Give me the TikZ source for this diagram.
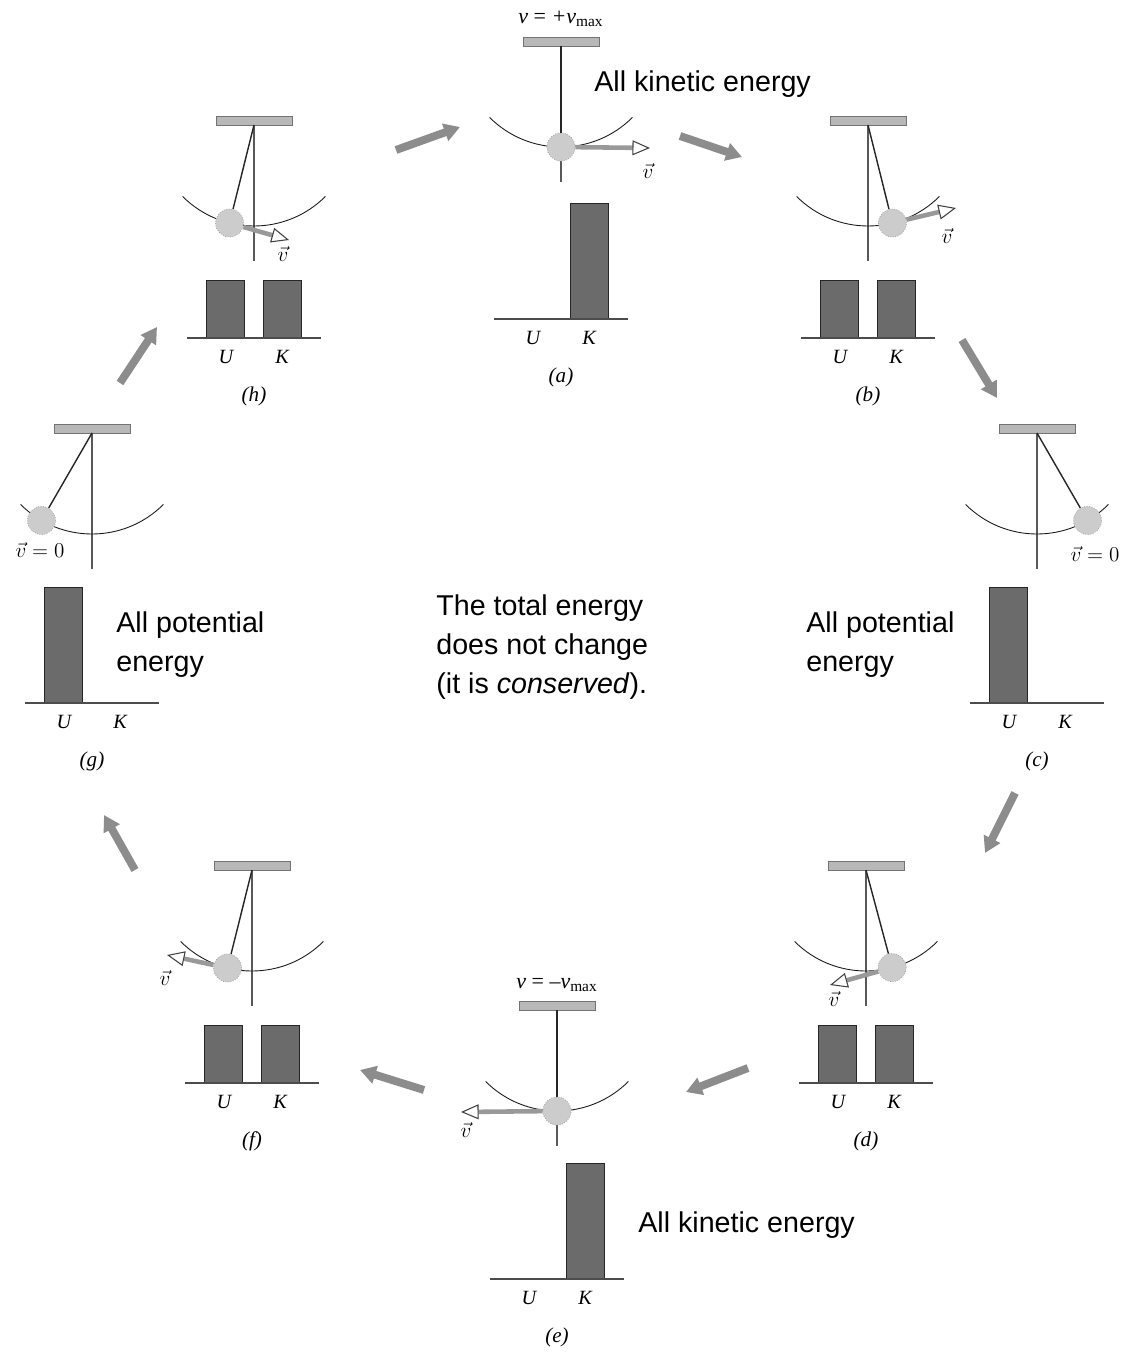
\documentclass[tikz,border=0pt]{standalone}
\usepackage{fontspec}
\setmainfont{Liberation Sans}
\newfontfamily\timesfont{Liberation Serif}
\usetikzlibrary{arrows.meta}

\tikzset{
  ceiling/.style={fill=black!28, draw=black!55, line width=0.5pt},
  plumb/.style={black!65, line width=0.7pt},
  swing/.style={black!90, line width=0.5pt},
  rod/.style={black!85, line width=0.8pt},
  bob/.style={circle, minimum size=16pt, inner sep=0pt, fill=black!20, draw=black!40, densely dotted},
  bar/.style={fill=black!58, draw=black!85, line width=0.5pt},
  groundline/.style={black!70, line width=0.6pt},
  uk/.style={font=\timesfont\itshape\fontsize{11.5}{13}\selectfont},
  panel/.style={font=\timesfont\itshape\fontsize{12}{14}\selectfont},
  vlabel/.style={font=\fontsize{12.5}{14}\selectfont},
  vmax/.style={font=\timesfont\itshape\fontsize{12.5}{14}\selectfont},
  energytext/.style={font=\fontsize{16.3}{22}\selectfont, align=left, inner sep=0pt},
  vel/.style={draw=black!40, line width=2.6pt,
    -{Triangle[open, fill=white, color=black!75, length=10pt, width=8.5pt, line width=0.6pt]}},
  flowarrow/.style={draw=black!45, line width=4.5pt, -{Triangle[length=9pt, width=10pt]}}
}

\begin{document}
\begin{tikzpicture}[x=0.02cm, y=0.02cm]
  \useasboundingbox (0,0) rectangle (1134,-1361);

  \foreach \n/\px/\py/\ang/\dy/\hu/\hk in {a/561/46/0/273/0/116, b/868/125/14/213/58/58,
      c/1037/433/30/270/116/0, d/866/870/15/213/58/58, e/557/1010/0/269/0/116,
      f/252/870/-14/213/58/58, g/92/433/-30/270/116/0, h/254/125/-14/213/58/58}{
    \coordinate (piv-\n) at (\px,-\py);
    \draw[ceiling] ({\px-38},-\py) rectangle ({\px+38},{-\py+9});
    \draw[plumb] (piv-\n) -- ++(0,-136);
    \draw[swing] (piv-\n) ++(-135:101) arc[start angle=-135, end angle=-45, radius=101];
    \node[bob] (bob-\n) at ([shift={(-90+\ang:101)}]piv-\n) {};
    \draw[rod] (piv-\n) -- (bob-\n);
    \ifnum\hu>0
      \draw[bar] ({\px-48},{-\py-\dy}) rectangle ({\px-10},{-\py-\dy+\hu});
    \fi
    \ifnum\hk>0
      \draw[bar] ({\px+9},{-\py-\dy}) rectangle ({\px+47},{-\py-\dy+\hk});
    \fi
    \draw[groundline] ({\px-67},{-\py-\dy}) -- ({\px+67},{-\py-\dy});
    \node[uk] (U-\n) at ({\px-28},{-\py-\dy-19}) {U};
    \node[uk] (K-\n) at ({\px+28},{-\py-\dy-19}) {K};
    \node[panel] (lab-\n) at (\px,{-\py-\dy-58}) {(\n)};
  }

  \foreach \n/\tx/\ty in {a/650/148, b/956/208, d/830/985, e/461/1112, f/167/955, h/289/240}{
    \coordinate (tip-\n) at (\tx,-\ty);
    \draw[vel] (bob-\n) -- (tip-\n);
  }
  \node[vlabel] (vec-a) at (648,-171) {$\vec{v}$};
  \node[vlabel] (vec-b) at (947,-236) {$\vec{v}$};
  \node[vlabel] (vec-d) at (834,-999) {$\vec{v}$};
  \node[vlabel] (vec-e) at (466,-1130) {$\vec{v}$};
  \node[vlabel] (vec-f) at (165,-978) {$\vec{v}$};
  \node[vlabel] (vec-h) at (283,-254) {$\vec{v}$};
  \node[vlabel] (vec-c) at (1095,-554) {$\vec{v}=0$};
  \node[vlabel] (vec-g) at (40,-550) {$\vec{v}=0$};
  \node[vmax] (vmax-a) at (561,-19) {v {\upshape=} +v\textsubscript{\upshape max}};
  \node[vmax] (vmax-e) at (557,-985) {v {\upshape=} {\upshape\textendash}v\textsubscript{\upshape max}};

  \node[energytext, anchor=base west] (kin-a) at (594,-92) {All kinetic energy};
  \node[energytext, anchor=base west] (kin-e) at (638,-1232) {All kinetic energy};
  \node[energytext, anchor=base west] (pot-g) at (116,-671) {All potential\\energy};
  \node[energytext, anchor=base west] (pot-c) at (806,-671) {All potential\\energy};
  \node[energytext, anchor=base west] (total) at (436,-693)
    {The total energy\\does not change\\(it is \textit{conserved}).};

  \foreach \s/\xa/\ya/\xb/\yb in {ha/396/150/460/127, ab/680/136/742/157,
      bc/962/340/997/398, cd/1015/793/985/853, de/748/1068/686/1092,
      ef/424/1090/360/1070, fg/135/870/104/815, gh/120/383/157/327}{
    \coordinate (\s-from) at (\xa,-\ya);
    \coordinate (\s-to) at (\xb,-\yb);
    \draw[flowarrow] (\s-from) -- (\s-to);
  }
\end{tikzpicture}
\end{document}
